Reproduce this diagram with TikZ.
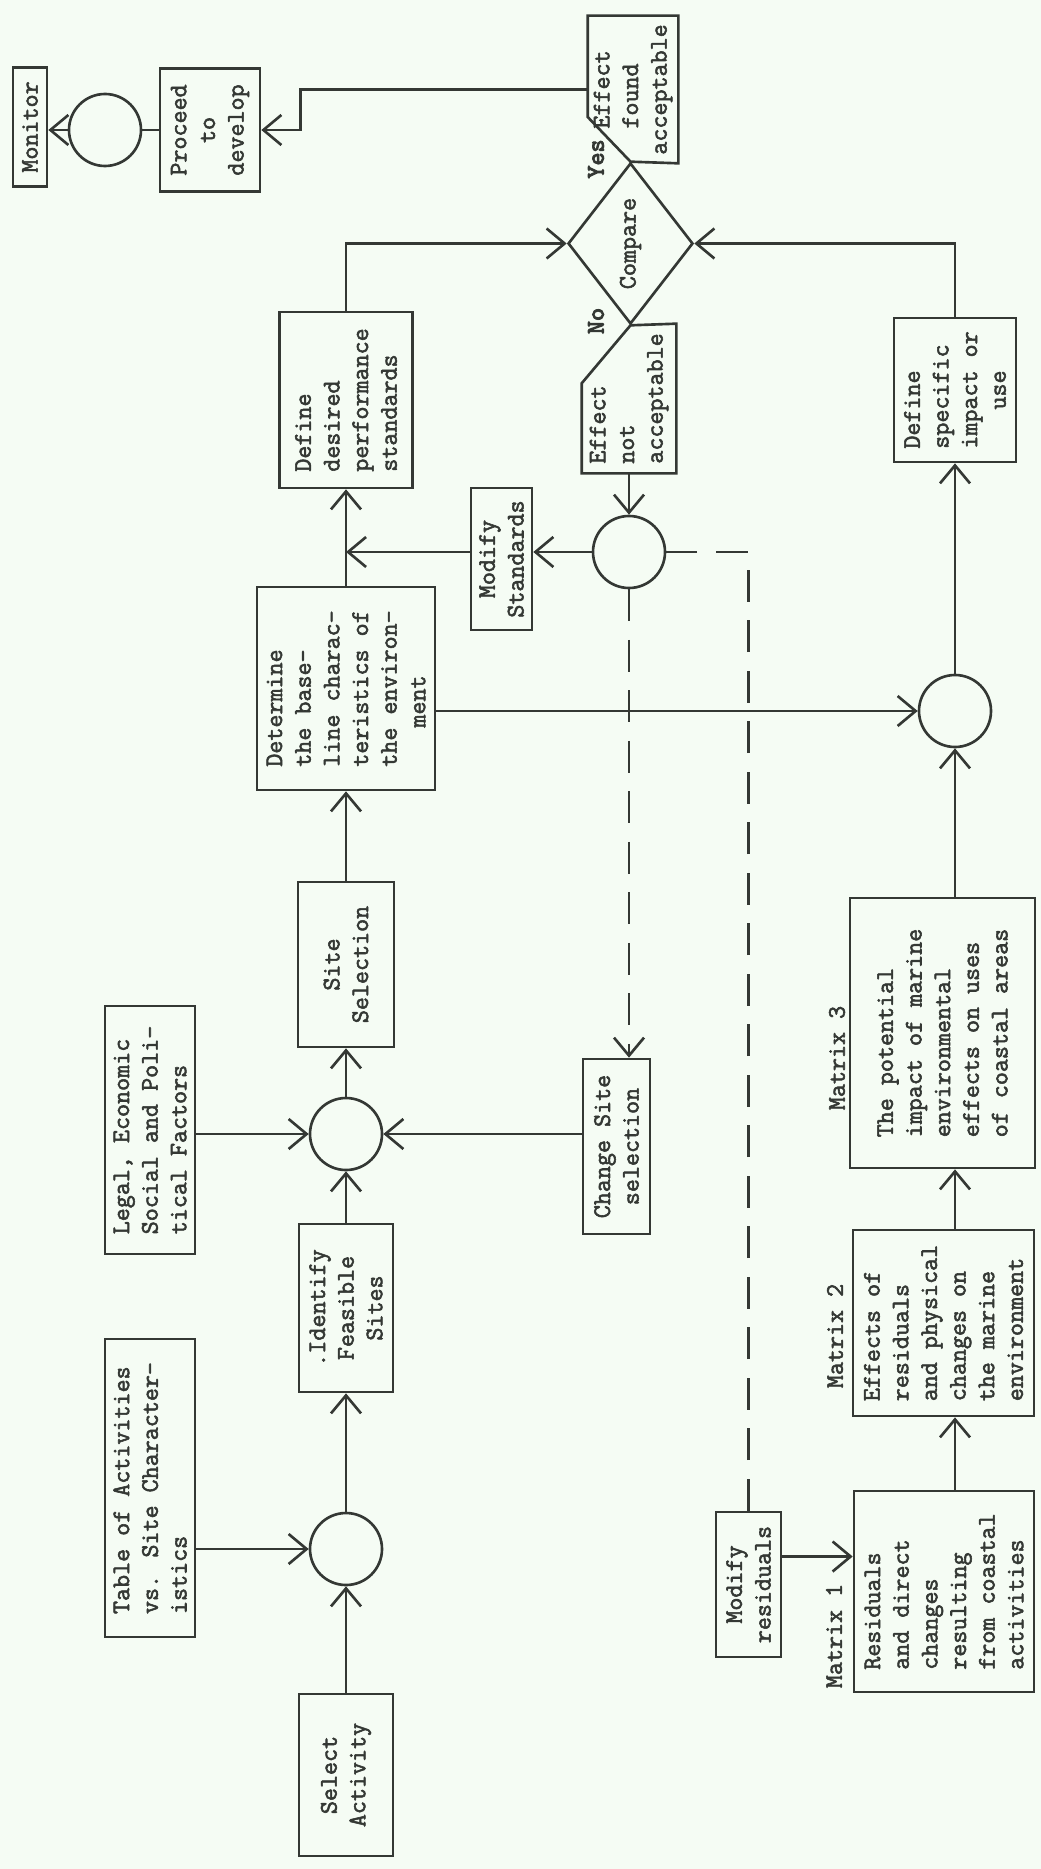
\documentclass[tikz,border=0pt]{standalone}
\usepackage{fontspec}
\usepackage{tikz}
\usetikzlibrary{arrows.meta,shapes.geometric}

\definecolor{paper}{RGB}{245,252,244}
\definecolor{ink}{RGB}{52,56,52}
\newfontfamily\typewriter{Latin Modern Mono}[FakeBold=2.2]
\newfontfamily\typewriterbold{Latin Modern Mono}[FakeBold=4]
\newcommand{\typer}{\fontsize{14.4pt}{16.3pt}\selectfont\typewriter}
\newcommand{\typerb}{\fontsize{14.4pt}{16.3pt}\selectfont\typewriterbold}

\tikzset{
  box/.style={draw, rotate=90, inner sep=2pt, font=\typer},
  ghost/.style={rotate=90, inner sep=2pt, font=\typer},
  lbl/.style={rotate=90, inner sep=1pt, font=\typer},
  junc/.style={draw, circle, minimum size=14.4mm, inner sep=0pt},
  loopback/.style={dash pattern=on 6.4mm off 3.7mm}
}

\begin{document}
\begin{tikzpicture}[x=0.2mm, y=-0.2mm, line width=1.5pt, color=ink,
    >={Straight Barb[length=3.6mm,width=6mm]}]
    \fill[paper] (0,0) rectangle (1041,1869);

    \foreach \n/\x/\y in {c1/346/1549, c2/346/1134, c4/955/711, c5/629/552, c6/105/130}
        \node[junc] (\n) at (\x,\y) {};

    \node[box, minimum width=23.8mm, minimum height=6.8mm] (mon) at (30,127) {Monitor};
    \node[box, align=center, minimum width=24.6mm, minimum height=20mm] (proc) at (210,130) {Proceed\\to\\develop};
    \node[ghost, align=left, minimum width=29mm, minimum height=17.6mm] (fnd) at (633,89.5) {~~Effect\\~~found\\acceptable};
    \node[draw, shape=diamond, rotate=90, inner sep=0pt, font=\typer, minimum width=32.2mm, minimum height=25mm] (cmp) at (630.5,243.5) {Compare};
    \node[ghost, align=left, minimum width=29.4mm, minimum height=18.4mm] (nac) at (629,398.5) {Effect\\not\\acceptable};
    \node[lbl, font=\typerb] (yes) at (596,159) {Yes};
    \node[lbl, font=\typerb] (no) at (596,321) {No};

    \node[box, align=left, minimum width=35.2mm, minimum height=26.6mm] (dds) at (346,400) {Define\\desired\\performance\\standards};
    \node[box, align=center, minimum width=28.4mm, minimum height=12.2mm] (mstd) at (501.5,559) {Modify\\Standards};
    \node[box, align=left, minimum width=40.6mm, minimum height=35.6mm] (det) at (346,688.5) {Determine\\the base-\\line charac-\\teristics of\\the environ-\\~~~ment};
    \node[box, align=left, minimum width=28.8mm, minimum height=24.4mm] (dsp) at (955,390) {Define\\specific\\impact or\\~~~use};

    \node[box, align=left, minimum width=54mm, minimum height=37mm] (m3) at (942.5,1033) {The potential\\impact of marine\\environmental\\effects on uses\\of coastal areas};
    \node[box, align=left, minimum width=37.2mm, minimum height=36.2mm] (m2) at (943.5,1323) {Effects of\\residuals\\and physical\\changes on\\the marine\\environment};
    \node[box, align=left, minimum width=40.2mm, minimum height=36mm] (m1) at (944,1591.5) {Residuals\\and direct\\changes\\resulting\\from coastal\\activities};
    \node[lbl] (lm3) at (837,1058) {Matrix 3};
    \node[lbl] (lm2) at (835,1336) {Matrix 2};
    \node[lbl] (lm1) at (834,1636) {Matrix 1};
    \node[box, align=center, minimum width=29mm, minimum height=13mm] (mres) at (748.5,1584.5) {Modify\\residuals};

    \node[box, align=center, minimum width=35mm, minimum height=13.4mm] (chg) at (616.5,1146.5) {Change Site\\selection};
    \node[box, align=left, minimum width=49.6mm, minimum height=18mm] (legal) at (150,1130) {Legal, Economic\\Social and Poli-\\tical Factors};
    \node[box, align=center, minimum width=33mm, minimum height=19.2mm] (site) at (346,964.5) {Site\\Selection};
    \node[box, align=center, minimum width=33.6mm, minimum height=18.8mm] (ident) at (346,1308) {.Identify\\Feasible\\Sites};
    \node[box, align=left, minimum width=59.6mm, minimum height=18mm] (table) at (150,1488) {Table of Activities\\vs. Site Character-\\istics};
    \node[box, align=center, minimum width=32.4mm, minimum height=18.8mm] (sel) at (346,1775) {Select\\Activity};

    \draw (fnd.north east) -- (fnd.south east) -- (fnd.south west) -- (cmp.east) -- (fnd.north east |- 0,117) -- cycle;
    \draw (cmp.west) -- (nac.south east) -- (nac.south west) -- (nac.north west) -- ++(0,-90) -- cycle;

    \draw[->] (sel) -- (c1);
    \draw[->] (table.south |- c1) -- (c1);
    \draw[->] (c1) -- (ident);
    \draw[->] (ident) -- (c2);
    \draw[->] (legal.south |- c2) -- (c2);
    \draw[->] (chg.north |- c2) -- (c2);
    \draw[->] (c2) -- (site);
    \draw[->] (site) -- (det);
    \draw[->] (det) -- (dds);
    \draw[->] (det.south |- c4) -- (c4);
    \draw[->] (dds.east) |- (cmp.north);
    \draw[->] (dsp.east) |- (cmp.south);
    \draw[->] (c4) -- (dsp);
    \draw[->] (m3.east -| c4) -- (c4);
    \draw[->] (m2.east -| c4) -- (m3.west -| c4);
    \draw[->] (m1.east -| c4) -- (m2.west -| c4);
    \draw[->] ([yshift=5.6mm]mres.south) coordinate (r1) -- (r1 -| m1.north);

    \draw[->] (nac) -- (c5);
    \draw[->] (c5) -- (c5 -| mstd.south);
    \draw[->] (mstd.north |- c5) -- (c5 -| dds);
    \draw[loopback] (mres.east) |- (c5.east);
    \draw[loopback,->] (c5) -- (c5 |- chg.east);

    \draw[->] (fnd.north) -- ++(-287,0) |- (proc.south);
    \draw (proc) -- (c6);
    \draw[->] (c6) -- (c6 -| mon.south);
\end{tikzpicture}
\end{document}
